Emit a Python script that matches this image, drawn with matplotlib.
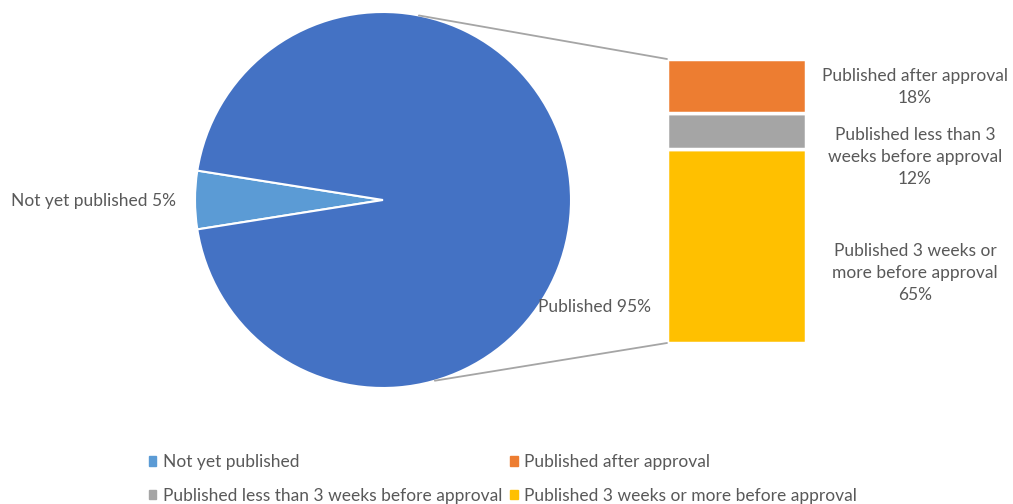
import numpy as np
import matplotlib.pyplot as plt
from matplotlib.patches import Patch, ConnectionPatch

# pie: share of trials by publication status
pie_labels = ['Not yet published', 'Published']
pie_values = [5, 95]

# bar: breakdown of the published share (stacked bottom to top)
bar_labels = ['Published 3 weeks or\nmore before approval',
              'Published less than 3\nweeks before approval',
              'Published after approval']
bar_values = [65, 12, 18]
legend_names = ['Not yet published',
                'Published less than 3 weeks before approval',
                'Published after approval',
                'Published 3 weeks or more before approval']

blue_dark = '#4472C4'
blue_light = '#5B9BD5'
orange = '#ED7D31'
grey = '#A5A5A5'
yellow = '#FFC000'
text_col = '#595959'

plt.rcParams['font.family'] = ['Lato', 'DejaVu Sans']
fs = 12.5

W, H = 1013, 504
fig = plt.figure(figsize=(W / 100, H / 100), dpi=100)
ax = fig.add_axes([0, 0, 1, 1])

cx, cy, r = 383, 304, 188
ax.pie(pie_values, colors=[blue_light, blue_dark], center=(cx, cy), radius=r,
       startangle=180 - pie_values[0] / 100 * 360 / 2,
       wedgeprops=dict(edgecolor='white', linewidth=1.5))
ax.set_xlim(0, W)
ax.set_ylim(0, H)
ax.set_aspect('auto')
ax.axis('off')

ax.text(176, H - 201, f'{pie_labels[0]} {pie_values[0]}%', ha='right',
        va='center', fontsize=fs, color=text_col)
ax.text(538, H - 307, f'{pie_labels[1]} {pie_values[1]}%', ha='left',
        va='center', fontsize=fs, color=text_col)

# stacked bar for the published slice
bx0, bx1, by_top, by_bot = 667, 806, 59, 343
bax = fig.add_axes([bx0 / W, (H - by_bot) / H, (bx1 - bx0) / W, (by_bot - by_top) / H])
bottom = 0
for val, col in zip(bar_values, [yellow, grey, orange]):
    bax.bar(0, val, bottom=bottom, width=1, color=col, edgecolor='white',
            linewidth=2.5)
    bottom += val
bax.set_xlim(-0.5, 0.5)
bax.set_ylim(0, sum(bar_values))
bax.axis('off')

# labels to the right of the bar
label_y = [273, 157, 87]
for lab, val, yy in zip(bar_labels, bar_values, label_y):
    ax.text(915, H - yy, f'{lab}\n{val}%', ha='center', va='center',
            fontsize=fs, color=text_col, linespacing=1.45)

# connector lines from the pie to the bar
for ang, corner in [(79, (0, 1)), (-74, (0, 0))]:
    p = (cx + r * np.cos(np.radians(ang)), cy + r * np.sin(np.radians(ang)))
    con = ConnectionPatch(xyA=p, coordsA=ax.transData, xyB=corner,
                          coordsB=bax.transAxes, color=grey, linewidth=1.3)
    fig.add_artist(con)

handles = [Patch(color=c) for c in [blue_light, grey, orange, yellow]]
fig.legend(handles, legend_names, ncol=2, loc='center', bbox_to_anchor=(503 / W, 1 - 479 / H),
           frameon=False, fontsize=fs, labelcolor=text_col, handlelength=0.45,
           handleheight=0.45, handletextpad=0.4, columnspacing=0.4, labelspacing=1.0)

fig.savefig('out.png', dpi=100)
